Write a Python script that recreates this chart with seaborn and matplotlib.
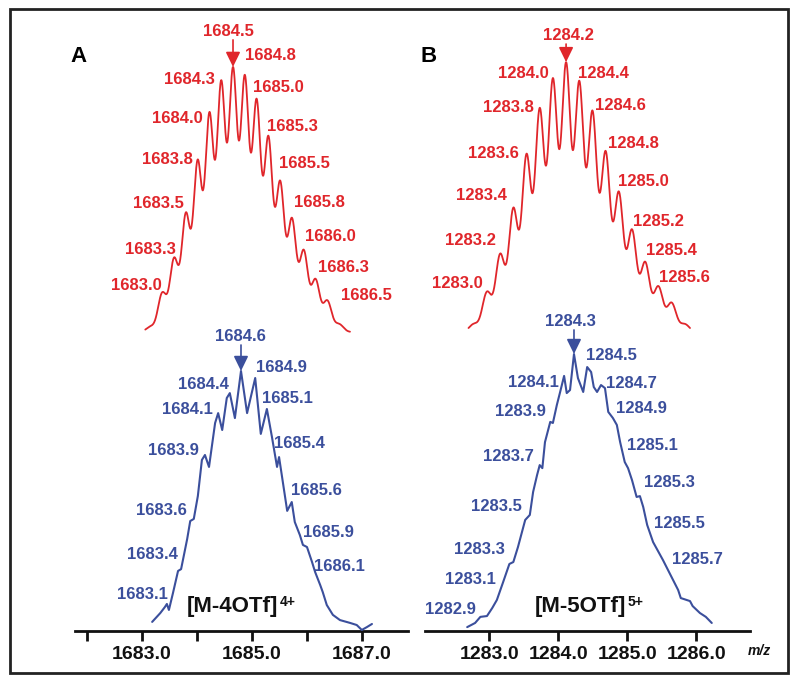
import numpy as np
import seaborn as sns
import matplotlib.pyplot as plt
from matplotlib.patches import Rectangle

# ---------------- data ----------------
# Panel A, [M-4OTf]4+ : simulated isotope pattern (stick m/z, rel. intensity)
sim_a_mz = [1682.75, 1683.0, 1683.25, 1683.5, 1683.75, 1684.0, 1684.25, 1684.5, 1684.75,
            1685.0, 1685.25, 1685.5, 1685.75, 1686.0, 1686.25, 1686.5, 1686.75]
sim_a_int = [2, 15, 28, 45, 65, 83, 95, 100, 97, 88, 74, 57, 43, 31, 20, 12, 3]
sim_a_labels = ['1683.0', '1683.3', '1683.5', '1683.8', '1684.0', '1684.3', '1684.5', '1684.8',
                '1685.0', '1685.3', '1685.5', '1685.8', '1686.0', '1686.3', '1686.5']

# Panel A : measured spectrum
exp_a_mz = [1682.85, 1683.01, 1683.10, 1683.14, 1683.18, 1683.26, 1683.36, 1683.42, 1683.54,
            1683.60, 1683.67, 1683.75, 1683.83, 1683.89, 1683.97, 1684.09, 1684.15, 1684.23,
            1684.32, 1684.38, 1684.48, 1684.60, 1684.72, 1684.88, 1684.99, 1685.11, 1685.21,
            1685.31, 1685.35, 1685.51, 1685.60, 1685.66, 1685.76, 1685.82, 1685.90, 1686.00,
            1686.06, 1686.16, 1686.21, 1686.29, 1686.41, 1686.55, 1686.75, 1686.88, 1686.98,
            1687.08, 1687.18]
exp_a_int = [3.5, 6.9, 9.2, 10.4, 8.1, 14.6, 23.1, 23.8, 35.4, 42.3, 43.1, 51.9, 65.8, 67.7,
             63.1, 80.0, 83.8, 77.3, 89.6, 91.5, 81.9, 100.0, 83.8, 97.3, 75.8, 85.4, 74.6,
             63.1, 66.9, 46.2, 49.6, 41.9, 36.9, 33.1, 32.3, 26.5, 22.7, 17.7, 15.0, 10.0,
             6.2, 4.2, 3.1, 2.3, 0.4, 1.5, 2.7]
exp_a_labels = ['1683.1', '1683.4', '1683.6', '1683.9', '1684.1', '1684.4', '1684.6',
                '1684.9', '1685.1', '1685.4', '1685.6', '1685.9', '1686.1']

# Panel B, [M-5OTf]5+ : simulated isotope pattern
sim_b_mz = [1282.8, 1283.0, 1283.2, 1283.4, 1283.6, 1283.8, 1284.0, 1284.2, 1284.4,
            1284.6, 1284.8, 1285.0, 1285.2, 1285.4, 1285.6, 1285.8, 1286.0]
sim_b_int = [3, 15, 29, 46, 66, 83, 94, 100, 93, 82, 67, 52, 38, 26, 17, 11, 3]
sim_b_labels = ['1283.0', '1283.2', '1283.4', '1283.6', '1283.8', '1284.0', '1284.2',
                '1284.4', '1284.6', '1284.8', '1285.0', '1285.2', '1285.4', '1285.6']

# Panel B : measured spectrum
exp_b_mz = [1282.68, 1282.80, 1282.88, 1282.98, 1283.06, 1283.13, 1283.22, 1283.32, 1283.38,
            1283.45, 1283.56, 1283.63, 1283.68, 1283.74, 1283.78, 1283.82, 1283.86, 1283.94,
            1283.98, 1284.04, 1284.09, 1284.15, 1284.19, 1284.24, 1284.30, 1284.36, 1284.44,
            1284.50, 1284.56, 1284.60, 1284.65, 1284.71, 1284.77, 1284.82, 1284.89, 1284.95,
            1285.00, 1285.07, 1285.12, 1285.18, 1285.25, 1285.30, 1285.35, 1285.41, 1285.50,
            1285.65, 1285.75, 1285.88, 1285.92, 1286.06, 1286.10, 1286.21, 1286.30, 1286.39]
exp_b_int = [1.4, 2.9, 5.1, 5.4, 8.3, 11.2, 17.3, 24.2, 24.9, 30.3, 40.1, 41.9, 50.2, 56.3,
             59.9, 58.8, 68.2, 75.5, 75.1, 81.6, 86.3, 92.1, 85.9, 87.0, 100.0, 91.3, 86.3,
             95.3, 93.5, 88.1, 86.3, 88.8, 87.7, 79.1, 76.9, 74.4, 68.2, 61.0, 58.8, 54.5,
             48.4, 48.7, 44.8, 38.3, 32.1, 25.6, 20.9, 14.8, 11.9, 10.8, 9.0, 6.5, 5.1, 2.9]
exp_b_labels = ['1282.9', '1283.1', '1283.3', '1283.5', '1283.7', '1283.9', '1284.1', '1284.3',
                '1284.5', '1284.7', '1284.9', '1285.1', '1285.3', '1285.5', '1285.7']

# axis ticks
axis_a_ticks = [1683.0, 1685.0, 1687.0]
axis_a_minor = [1682.0, 1684.0, 1686.0]
axis_b_ticks = [1283.0, 1284.0, 1285.0, 1286.0]

# ---------------- layout ----------------
# label anchor positions, in each trace's data units
sim_a_lx = [1682.46, 1682.75, 1682.91, 1683.12, 1683.33, 1683.58, 1684.40, 1685.30,
            1685.47, 1685.77, 1686.02, 1686.34, 1686.56, 1686.84, 1687.32]
sim_a_ly = [17.7, 31.0, 48.3, 64.9, 80.4, 95.1, 113.2, 104.2, 92.1, 77.7, 63.4, 48.7, 36.2, 24.2, 13.6]
exp_a_lx = [1682.66, 1682.86, 1683.04, 1683.26, 1683.54, 1683.86, 1684.58, 1685.39,
            1685.52, 1685.75, 1686.09, 1686.32, 1686.53]
exp_a_ly = [14.2, 29.6, 46.2, 69.6, 85.3, 94.9, 113.1, 101.2, 89.6, 72.2, 54.2, 37.8, 24.9]
sim_b_lx = [1282.55, 1282.75, 1282.92, 1283.10, 1283.33, 1283.55, 1284.23, 1284.76,
            1285.02, 1285.22, 1285.38, 1285.60, 1285.80, 1285.99]
sim_b_ly = [18.1, 34.1, 50.7, 66.0, 83.3, 95.6, 110.0, 95.6, 84.1, 70.0, 55.6, 41.1, 30.4, 20.4]
exp_b_lx = [1282.43, 1282.73, 1282.87, 1283.13, 1283.30, 1283.49, 1283.69, 1284.25,
            1284.87, 1285.17, 1285.33, 1285.49, 1285.75, 1285.90, 1286.17]
exp_b_ly = [7.8, 18.5, 29.5, 44.9, 62.9, 79.1, 89.8, 111.7, 99.3, 89.5, 80.4, 67.0, 53.5, 38.9, 25.9]

RED = '#e0262b'
BLUE = '#3b4f9c'
W, H = 800, 682

sns.set_theme(style='white')
plt.rcParams['font.family'] = ['Liberation Sans', 'DejaVu Sans']

fig = plt.figure(figsize=(W / 100, H / 100), dpi=100)


def box(left_px, right_px):
    return [left_px / W, 1 - 631 / H, (right_px - left_px) / W, 611 / H]


def broaden(mz, inten, lo, hi, sigma):
    grid = np.linspace(lo, hi, 1500)
    prof = np.zeros_like(grid)
    for m, i in zip(mz, inten):
        prof += i * np.exp(-(grid - m) ** 2 / (2 * sigma ** 2))
    return grid, prof / prof.max() * 100


def trace_axes(rect, xlim, ylim):
    ax = fig.add_axes(rect)
    ax.set_xlim(*xlim)
    ax.set_ylim(*ylim)
    ax.axis('off')
    ax.patch.set_alpha(0)
    return ax


def draw_labels(ax, texts, xs, ys, color):
    for t, x, y in zip(texts, xs, ys):
        ax.text(x, y, t, color=color, fontsize=12, fontweight='bold', ha='center', va='center')


def draw_arrow(ax, mz, inten, tail, color):
    top = mz[int(np.argmax(inten))]
    ax.annotate('', xy=(top, 100), xytext=(top, tail),
                arrowprops=dict(arrowstyle='-|>,head_length=0.45,head_width=0.22',
                                color=color, lw=1.2, shrinkA=0, shrinkB=0, mutation_scale=20))


def draw_panel(rect, axis_lim, ticks, minor, red_lim, blue_lim, red_ylim, blue_ylim,
               sim, exp, red_range, sigma, letter, ion, charge, red_tail, blue_tail):
    # x axis
    axx = fig.add_axes(rect)
    axx.set_xlim(*axis_lim)
    axx.set_ylim(0, 1)
    axx.patch.set_alpha(0)
    for s in ['left', 'right', 'top']:
        axx.spines[s].set_visible(False)
    axx.spines['bottom'].set_linewidth(2)
    axx.spines['bottom'].set_color('#111111')
    axx.set_yticks([])
    axx.set_xticks(ticks, labels=[f'{t:.1f}' for t in ticks])
    axx.set_xticks(minor, minor=True)
    axx.tick_params(axis='x', which='both', bottom=True, direction='out', length=7, width=2,
                    color='#111111', pad=4, labelsize=14, labelcolor='#111111')
    for lab in axx.get_xticklabels():
        lab.set_fontweight('bold')
    axx.text(0.012, 0.94, letter, transform=axx.transAxes, fontsize=16, fontweight='bold',
             color='black', ha='center', va='center')

    # simulated (red)
    axr = trace_axes(rect, red_lim, red_ylim)
    grid, prof = broaden(sim[0], sim[1], red_range[0], red_range[1], sigma)
    sns.lineplot(x=grid, y=prof, ax=axr, color=RED, linewidth=1.3)
    axr.set_xlim(*red_lim)
    axr.set_ylim(*red_ylim)
    draw_labels(axr, sim[2], sim[3], sim[4], RED)
    draw_arrow(axr, sim[0], sim[1], red_tail, RED)

    # measured (blue)
    axb = trace_axes(rect, blue_lim, blue_ylim)
    sns.lineplot(x=exp[0], y=exp[1], ax=axb, color=BLUE, linewidth=1.5)
    axb.set_xlim(*blue_lim)
    axb.set_ylim(*blue_ylim)
    draw_labels(axb, exp[2], exp[3], exp[4], BLUE)
    draw_arrow(axb, exp[0], exp[1], blue_tail, BLUE)
    t = axb.text(ion[0], ion[1], ion[2], fontsize=16, fontweight='bold', color='#111111',
                 ha='left', va='baseline')
    axb.annotate(charge, xy=(1.0, 1.0), xycoords=t, xytext=(1, 1), textcoords='offset points',
                 fontsize=10, fontweight='bold', color='#111111', ha='left', va='top')
    return axx


draw_panel(box(75, 408), (1681.78, 1687.84), axis_a_ticks, axis_a_minor,
           (1681.15, 1688.21), (1681.33, 1687.89), (-112.8, 117.7), (0, 235),
           (sim_a_mz, sim_a_int, sim_a_labels, sim_a_lx, sim_a_ly),
           (exp_a_mz, exp_a_int, exp_a_labels, exp_a_lx, exp_a_ly),
           (1682.64, 1686.98), 0.09, 'A', (1683.54, 7.3, '[M-4OTf]'), '4+', 110.2, 110)

axb_axis = draw_panel(box(425, 750), (1282.07, 1286.78), axis_b_ticks, [],
                      (1282.06, 1286.99), (1282.04, 1286.97), (-110.7, 115.6), (0, 220.6),
                      (sim_b_mz, sim_b_int, sim_b_labels, sim_b_lx, sim_b_ly),
                      (exp_b_mz, exp_b_int, exp_b_labels, exp_b_lx, exp_b_ly),
                      (1282.72, 1286.08), 0.07, 'B', (1283.71, 6.9, '[M-5OTf]'), '5+', 106.7, 108.7)
axb_axis.text(1.03, -0.033, 'm/z', transform=axb_axis.transAxes, fontsize=10,
              fontstyle='italic', fontweight='bold', color='#111111', ha='center', va='center')

# outer frame
fig.add_artist(Rectangle((10 / W, 1 - 673 / H), 778 / W, 664 / H, transform=fig.transFigure,
                         fill=False, lw=2, edgecolor='#222222'))

fig.savefig('out.png', dpi=100)
